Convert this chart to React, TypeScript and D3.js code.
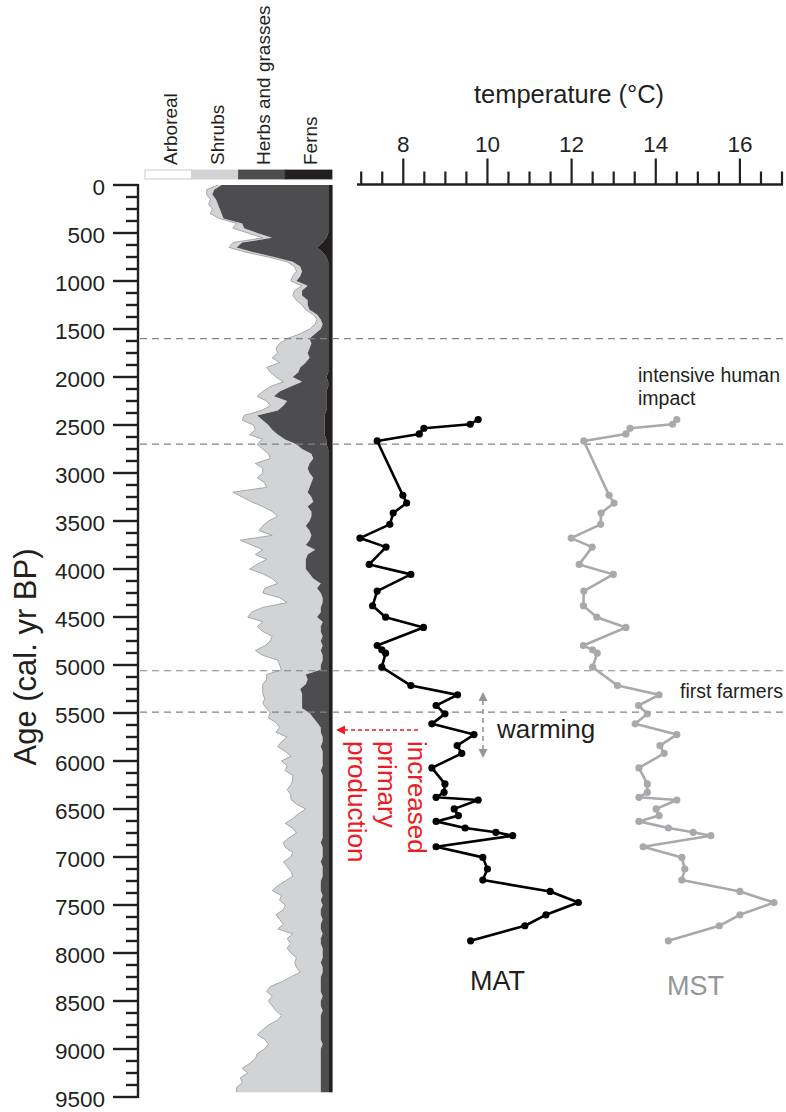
import React from "react";
import * as d3 from "d3";

// Pollen record, sampled every 50 years (cal. yr BP), percentages of the pollen sum
const pollenAge = [
  0, 50, 100, 150, 200, 250, 300, 350, 400, 450, 500, 550, 600, 650, 700, 750, 800, 850, 900, 950,
  1000, 1050, 1100, 1150, 1200, 1250, 1300, 1350, 1400, 1450, 1500, 1550, 1600, 1650, 1700, 1750, 1800, 1850, 1900, 1950,
  2000, 2050, 2100, 2150, 2200, 2250, 2300, 2350, 2400, 2450, 2500, 2550, 2600, 2650, 2700, 2750, 2800, 2850, 2900, 2950,
  3000, 3050, 3100, 3150, 3200, 3250, 3300, 3350, 3400, 3450, 3500, 3550, 3600, 3650, 3700, 3750, 3800, 3850, 3900, 3950,
  4000, 4050, 4100, 4150, 4200, 4250, 4300, 4350, 4400, 4450, 4500, 4550, 4600, 4650, 4700, 4750, 4800, 4850, 4900, 4950,
  5000, 5050, 5100, 5150, 5200, 5250, 5300, 5350, 5400, 5450, 5500, 5550, 5600, 5650, 5700, 5750, 5800, 5850, 5900, 5950,
  6000, 6050, 6100, 6150, 6200, 6250, 6300, 6350, 6400, 6450, 6500, 6550, 6600, 6650, 6700, 6750, 6800, 6850, 6900, 6950,
  7000, 7050, 7100, 7150, 7200, 7250, 7300, 7350, 7400, 7450, 7500, 7550, 7600, 7650, 7700, 7750, 7800, 7850, 7900, 7950,
  8000, 8050, 8100, 8150, 8200, 8250, 8300, 8350, 8400, 8450, 8500, 8550, 8600, 8650, 8700, 8750, 8800, 8850, 8900, 8950,
  9000, 9050, 9100, 9150, 9200, 9250, 9300, 9350, 9400, 9450,
];

const arboreal = [
  39, 33, 33, 35, 34, 36, 35, 40, 49, 47, 55, 63, 47, 45, 54, 66, 76, 80, 81, 79,
  78, 84, 80, 79, 81, 84, 86, 90, 92, 91, 88, 83, 76, 72, 70, 71, 68, 72, 65, 67,
  70, 74, 67, 63, 60, 65, 67, 62, 53, 52, 58, 59, 56, 63, 60, 63, 66, 67, 59, 63,
  63, 60, 64, 65, 47, 52, 57, 63, 68, 71, 66, 63, 61, 68, 51, 57, 63, 59, 65, 60,
  56, 63, 68, 71, 64, 63, 72, 76, 63, 57, 55, 63, 60, 63, 68, 67, 64, 59, 63, 71,
  72, 73, 65, 65, 63, 63, 63, 64, 63, 65, 67, 66, 70, 72, 70, 76, 73, 71, 75, 78,
  73, 76, 75, 79, 79, 78, 76, 78, 78, 81, 86, 82, 79, 75, 79, 81, 77, 74, 75, 79,
  78, 74, 76, 78, 79, 75, 71, 68, 73, 72, 75, 74, 70, 72, 74, 71, 79, 76, 78, 76,
  78, 81, 80, 81, 83, 78, 73, 67, 65, 68, 66, 68, 70, 73, 71, 66, 63, 60, 64, 66,
  64, 60, 59, 56, 52, 55, 51, 52, 49, 49,
];

const shrubs = [
  2, 4, 3, 3, 5, 4, 6, 2, 3, 6, 5, 5, 5, 4, 4, 3, 3, 3, 3, 4,
  3, 3, 4, 5, 6, 3, 2, 2, 2, 4, 6, 8, 12, 17, 18, 16, 20, 14, 18, 15,
  9, 10, 11, 9, 9, 11, 7, 9, 7, 11, 8, 9, 15, 12, 21, 21, 23, 23, 29, 24,
  25, 30, 25, 23, 40, 37, 33, 24, 21, 18, 22, 23, 27, 21, 37, 29, 28, 28, 21, 26,
  30, 25, 22, 23, 28, 31, 23, 19, 31, 37, 37, 32, 34, 31, 27, 27, 31, 35, 32, 24,
  22, 21, 21, 22, 23, 20, 21, 20, 21, 19, 21, 24, 22, 22, 24, 19, 22, 23, 20, 17,
  22, 19, 19, 16, 16, 17, 19, 17, 17, 14, 9, 13, 16, 20, 16, 14, 18, 20, 20, 16,
  17, 20, 19, 17, 16, 19, 23, 26, 22, 22, 20, 20, 24, 23, 20, 23, 16, 18, 16, 19,
  17, 14, 14, 14, 12, 16, 21, 27, 29, 27, 28, 26, 25, 21, 23, 28, 31, 34, 30, 29,
  30, 34, 35, 38, 42, 39, 43, 42, 45, 45,
];

const herbs = [
  57, 61, 62, 60, 59, 58, 57, 56, 46, 45, 38, 29, 43, 43, 37, 28, 19, 15, 14, 15,
  17, 11, 14, 14, 11, 11, 10, 6, 4, 3, 4, 7, 10, 9, 10, 11, 10, 12, 15, 16,
  18, 14, 20, 25, 28, 21, 23, 26, 36, 33, 30, 28, 25, 22, 16, 14, 9, 8, 10, 11,
  10, 8, 9, 10, 11, 9, 8, 11, 9, 9, 10, 12, 10, 9, 10, 12, 7, 11, 12, 12,
  12, 10, 8, 4, 6, 4, 3, 3, 4, 4, 6, 3, 4, 4, 3, 4, 3, 4, 3, 3,
  4, 4, 12, 11, 12, 15, 14, 14, 14, 14, 10, 8, 6, 4, 4, 3, 3, 4, 3, 3,
  3, 3, 4, 3, 3, 3, 3, 3, 3, 3, 3, 3, 3, 3, 3, 3, 3, 4, 3, 3,
  3, 4, 3, 3, 3, 4, 4, 4, 3, 4, 3, 4, 4, 3, 4, 4, 3, 4, 4, 3,
  3, 3, 4, 3, 3, 4, 4, 4, 4, 3, 4, 4, 3, 4, 4, 4, 4, 4, 4, 3,
  4, 4, 4, 4, 4, 4, 4, 4, 4, 4,
];

const ferns = [
  2, 2, 2, 2, 2, 2, 2, 2, 2, 2, 2, 3, 5, 8, 5, 3, 2, 2, 2, 2,
  2, 2, 2, 2, 2, 2, 2, 2, 2, 2, 2, 2, 2, 2, 2, 2, 2, 2, 2, 2,
  3, 2, 2, 3, 3, 3, 3, 3, 4, 4, 4, 4, 4, 3, 3, 2, 2, 2, 2, 2,
  2, 2, 2, 2, 2, 2, 2, 2, 2, 2, 2, 2, 2, 2, 2, 2, 2, 2, 2, 2,
  2, 2, 2, 2, 2, 2, 2, 2, 2, 2, 2, 2, 2, 2, 2, 2, 2, 2, 2, 2,
  2, 2, 2, 2, 2, 2, 2, 2, 2, 2, 2, 2, 2, 2, 2, 2, 2, 2, 2, 2,
  2, 2, 2, 2, 2, 2, 2, 2, 2, 2, 2, 2, 2, 2, 2, 2, 2, 2, 2, 2,
  2, 2, 2, 2, 2, 2, 2, 2, 2, 2, 2, 2, 2, 2, 2, 2, 2, 2, 2, 2,
  2, 2, 2, 2, 2, 2, 2, 2, 2, 2, 2, 2, 2, 2, 2, 2, 2, 2, 2, 2,
  2, 2, 2, 2, 2, 2, 2, 2, 2, 2,
];

const pollenGroups = ["Arboreal", "Shrubs", "Herbs and grasses", "Ferns"];
const groupKeys = ["arboreal", "shrubs", "herbs", "ferns"];
const groupColors = ["#ffffff", "#d1d3d4", "#4d4d4f", "#231f20"];

// Reconstructed temperatures (°C): mean annual (MAT) and mean summer (MST)
const tempAge = [
  2443, 2492, 2534, 2593, 2666, 3233, 3313, 3417, 3535, 3678, 3772, 3952, 4056, 4230, 4383, 4502, 4609,
  4797, 4842, 4877, 5023, 5214, 5311, 5422, 5509, 5613, 5725, 5839, 5920, 6072, 6239, 6326, 6378, 6406,
  6499, 6569, 6629, 6698, 6743, 6778, 6893, 7004, 7125, 7240, 7359, 7474, 7602, 7716, 7873,
];
const mat = [
  9.78, 9.59, 8.49, 8.38, 7.38, 7.99, 8.08, 7.76, 7.68, 6.97, 7.59, 7.19, 8.18, 7.38, 7.27, 7.58, 8.48,
  7.38, 7.49, 7.58, 7.49, 8.18, 9.29, 8.78, 8.99, 8.68, 9.68, 9.28, 9.39, 8.68, 8.99, 8.97, 8.78, 9.78,
  9.21, 9.31, 8.78, 9.47, 10.2, 10.6, 8.78, 9.89, 10.0, 9.89, 11.49, 12.16, 11.39, 10.89, 9.6,
];
const mst = [
  14.5, 14.4, 13.39, 13.29, 12.29, 12.89, 13.01, 12.7, 12.69, 11.99, 12.49, 12.18, 12.99, 12.29, 12.28, 12.6, 13.29,
  12.28, 12.5, 12.61, 12.5, 13.09, 14.08, 13.59, 13.8, 13.51, 14.5, 14.1, 14.2, 13.6, 13.8, 13.8, 13.6, 14.5,
  14.01, 14.08, 13.6, 14.3, 14.89, 15.31, 13.7, 14.62, 14.69, 14.62, 16.0, 16.81, 16.0, 15.51, 14.3,
];

// Zone boundaries (cal. yr BP)
const zoneBounds = [1600, 2700, 5060, 5490];

const ageMajorTicks = [0, 500, 1000, 1500, 2000, 2500, 3000, 3500, 4000, 4500, 5000, 5500, 6000, 6500, 7000, 7500, 8000, 8500, 9000, 9500];
const tempMajorTicks = [8, 10, 12, 14, 16];

const FONT = "'Liberation Sans', Arial, Helvetica, sans-serif";
const INK = "#231f20";

export default function App() {
  const W = 786;
  const H = 1112;

  const y = d3.scaleLinear().domain([0, 9500]).range([185, 1097]);
  const xP = d3.scaleLinear().domain([0, 100]).range([145, 332]);
  const xT = d3.scaleLinear().domain([7, 17]).range([361.2, 782]);

  const rows = pollenAge.map((age, i) => ({
    age,
    arboreal: arboreal[i],
    shrubs: shrubs[i],
    herbs: herbs[i],
    ferns: ferns[i],
  }));
  const series = d3.stack<any>().keys(groupKeys)(rows);

  const area = d3
    .area<any>()
    .y((d) => y(d.data.age))
    .x0((d) => xP(d[0]))
    .x1((d) => xP(d[1]));

  const edgeLine = d3
    .line<any>()
    .x((d) => xP(d[1]))
    .y((d) => y(d.data.age));

  const minorAgeTicks = d3.range(0, 9501, 125).filter((t) => t % 500 !== 0);
  const tempTicks = d3.range(7, 17.01, 0.5);

  const matPts = tempAge.map((a, i) => [xT(mat[i]), y(a)] as [number, number]);
  const mstPts = tempAge.map((a, i) => [xT(mst[i]), y(a)] as [number, number]);
  const tLine = d3.line();

  const legendW = (xP(100) - xP(0)) / 4;

  return (
    <svg
      width={W}
      height={H}
      viewBox={`0 0 ${W} ${H}`}
      style={{ position: "absolute", left: 0, top: 0, background: "#fff" }}
      fontFamily={FONT}
      fontWeight={400}
    >
      {/* stacked pollen groups */}
      {series.map((s, i) =>
        i === 0 ? null : (
          <path key={s.key} d={area(s) || ""} fill={groupColors[i]} stroke="none" />
        )
      )}
      <path d={edgeLine(series[0]) || ""} fill="none" stroke="#9d9fa2" strokeWidth={0.9} />
      <line x1={xP(100)} x2={xP(100)} y1={y(0)} y2={y(9450)} stroke={INK} strokeWidth={1.2} />

      {/* legend bar */}
      {pollenGroups.map((g, i) => (
        <g key={g}>
          <rect
            x={xP(0) + i * legendW}
            y={170}
            width={legendW}
            height={9}
            fill={groupColors[i]}
            stroke={i === 0 ? "#bcbec0" : groupColors[i]}
            strokeWidth={0.8}
          />
          <text
            transform={`translate(${xP(0) + i * legendW + legendW / 2 + 8.5},165) rotate(-90)`}
            fontSize={19}
            fill={INK}
          >
            {g}
          </text>
        </g>
      ))}

      {/* zone boundaries */}
      {zoneBounds.map((b) => (
        <line
          key={b}
          x1={140}
          x2={W}
          y1={y(b)}
          y2={y(b)}
          stroke="#808285"
          strokeWidth={1.2}
          strokeDasharray="7 5"
        />
      ))}

      {/* age axis */}
      <line x1={138} x2={138} y1={y(0) - 1} y2={y(9500) + 1} stroke={INK} strokeWidth={2.4} />
      {ageMajorTicks.map((t) => (
        <g key={t}>
          <line x1={113} x2={138} y1={y(t)} y2={y(t)} stroke={INK} strokeWidth={2.4} />
          <text x={105} y={y(t) + 9.5} textAnchor="end" fontSize={22.5} fill={INK}>
            {t}
          </text>
        </g>
      ))}
      {minorAgeTicks.map((t) => (
        <line key={t} x1={126} x2={138} y1={y(t)} y2={y(t)} stroke={INK} strokeWidth={2.4} />
      ))}
      <text transform="translate(36,657) rotate(-90)" textAnchor="middle" fontSize={31} fill={INK}>
        Age (cal. yr BP)
      </text>

      {/* temperature axis */}
      <line x1={357} x2={783} y1={184.5} y2={184.5} stroke={INK} strokeWidth={2.4} />
      {tempTicks.map((t) => {
        const major = tempMajorTicks.includes(t);
        return (
          <line
            key={t}
            x1={xT(t)}
            x2={xT(t)}
            y1={184.5}
            y2={major ? 158.5 : 171.5}
            stroke={INK}
            strokeWidth={2.2}
          />
        );
      })}
      {tempMajorTicks.map((t) => (
        <text key={t} x={xT(t)} y={151.5} textAnchor="middle" fontSize={22.5} fill={INK}>
          {t}
        </text>
      ))}
      <text x={569} y={103} textAnchor="middle" fontSize={25.5} fill={INK}>
        temperature (°C)
      </text>

      {/* MST */}
      <path d={tLine(mstPts) || ""} fill="none" stroke="#a7a9ac" strokeWidth={2.6} strokeLinejoin="round" />
      {mstPts.map((p, i) => (
        <circle key={i} cx={p[0]} cy={p[1]} r={3.6} fill="#a7a9ac" />
      ))}
      {/* MAT */}
      <path d={tLine(matPts) || ""} fill="none" stroke="#000" strokeWidth={2.6} strokeLinejoin="round" />
      {matPts.map((p, i) => (
        <circle key={i} cx={p[0]} cy={p[1]} r={3.6} fill="#000" />
      ))}

      <text x={470} y={990} fontSize={27} fill={INK}>
        MAT
      </text>
      <text x={667} y={995} fontSize={27} fill="#939598">
        MST
      </text>

      {/* annotations */}
      <text x={638} y={381.5} fontSize={19.5} fill={INK}>
        intensive human
      </text>
      <text x={638} y={405} fontSize={19.5} fill={INK}>
        impact
      </text>
      <text x={680} y={698} fontSize={19.5} fill={INK}>
        first farmers
      </text>

      {/* warming arrow */}
      <line x1={483} x2={483} y1={700} y2={750} stroke="#939598" strokeWidth={1.6} strokeDasharray="5 4" />
      <path d="M483,692 L478.5,701 L487.5,701 Z" fill="#939598" />
      <path d="M483,758 L478.5,749 L487.5,749 Z" fill="#939598" />
      <text x={497} y={738} fontSize={26} fill={INK}>
        warming
      </text>

      {/* primary production arrow */}
      <line x1={418} x2={345} y1={730} y2={730} stroke="#ed1c24" strokeWidth={1.5} strokeDasharray="4 3" />
      <path d="M336,730 L345,725.5 L345,734.5 Z" fill="#ed1c24" />
      {["increased", "primary", "production"].map((w, i) => (
        <text
          key={w}
          transform={`translate(${408 - i * 30},741) rotate(90)`}
          fontSize={26}
          fill="#ed1c24"
        >
          {w}
        </text>
      ))}
    </svg>
  );
}
